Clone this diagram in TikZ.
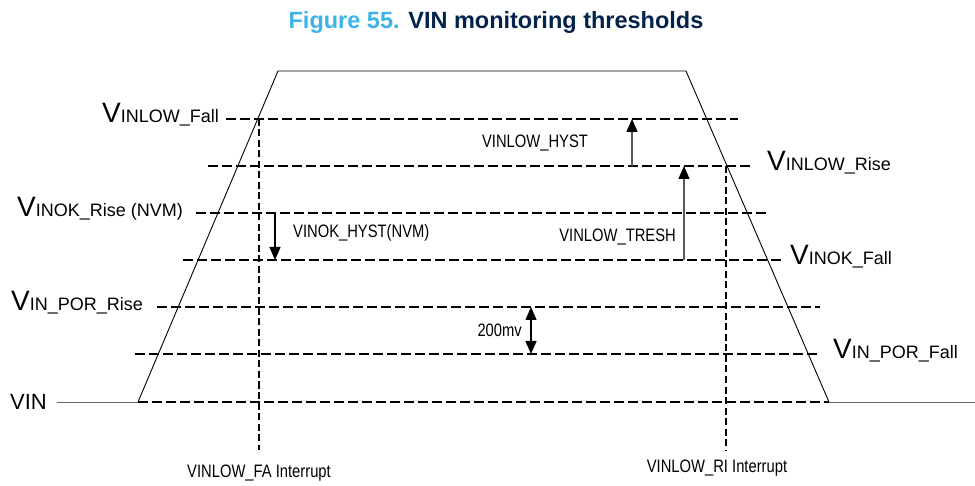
\documentclass[tikz,border=0pt]{standalone}
\usepackage{fontspec}
\setmainfont{Liberation Sans}
\newfontfamily\narrowfont[FakeStretch=0.82]{Liberation Sans}
\usetikzlibrary{arrows.meta}
\definecolor{stblue}{HTML}{3CB4E6}
\definecolor{stnavy}{HTML}{03234B}
\newcommand{\bigV}[1]{{\fontsize{28}{28}\selectfont V}{\fontsize{18}{18}\selectfont #1}}

\begin{document}
\begin{tikzpicture}[x=1pt,y=-1pt,
  level/.style={line width=2.8pt,dash pattern=on 9.5pt off 4.5pt},
  marker/.style={line width=1.9pt,dash pattern=on 7pt off 3.5pt},
  wave/.style={line width=0.9pt},
  base/.style={line width=0.9pt,black!60},
  gap/.style={line width=1.4pt,black!65,-{Triangle[length=13pt,width=11pt,black]}},
  tag/.style={font=\narrowfont\fontsize{18}{18}\selectfont,inner sep=0pt},
  vlabel/.style={inner sep=0pt}]
\useasboundingbox (0,0) rectangle (975,486);
% title
\node[font=\bfseries\fontsize{23.5}{23.5}\selectfont] (title) at (496,22)
  {\textcolor{stblue}{Figure 55.} \textcolor{stnavy}{VIN monitoring thresholds}};
% threshold levels
\draw[level] (226,119) -- (738,119);
\draw[level] (208,166) -- (750,166);
\draw[level] (196,213) -- (770,213);
\draw[level] (183,260) -- (782,260);
\draw[level] (157,307) -- (820,307);
\draw[level] (135,354) -- (820,354);
\draw[level] (138,402) -- (829,402);
% interrupt markers
\draw[marker] (259,119) -- (259,450);
\draw[marker] (726,166) -- (726,450);
% supply waveform
\draw[base] (57,402) -- (138,402);
\draw[wave] (138,402) -- (278,71) -- (686,71) -- (829,402);
\draw[base] (829,402) -- (975,402);
% level names
\node[vlabel,anchor=base east] (lowfall) at (219,123) {\bigV{INLOW\_Fall}};
\node[vlabel,anchor=base east] (okrise) at (183,217) {\bigV{INOK\_Rise (NVM)}};
\node[vlabel,anchor=base east] (porrise) at (143,311) {\bigV{IN\_POR\_Rise}};
\node[vlabel,anchor=east,font=\fontsize{22}{22}\selectfont] (vin) at (47,402) {VIN};
\node[vlabel,anchor=base west] (lowrise) at (767,171) {\bigV{INLOW\_Rise}};
\node[vlabel,anchor=base west] (okfall) at (790,265) {\bigV{INOK\_Fall}};
\node[vlabel,anchor=base west] (porfall) at (833,359) {\bigV{IN\_POR\_Fall}};
% hysteresis arrows
\coordinate (hystA) at (632,166);
\coordinate (hystB) at (632,119);
\draw[gap] (hystA) -- (hystB);
\node[tag] (hyst) at (535,143) {VINLOW\_HYST};
\coordinate (treshA) at (684,260);
\coordinate (treshB) at (684,166);
\draw[gap] (treshA) -- (treshB);
\node[tag,anchor=east] (tresh) at (676,237) {VINLOW\_TRESH};
\coordinate (okA) at (275,213);
\coordinate (okB) at (275,260);
\draw[gap,black] (okA) -- (okB);
\node[tag,anchor=west] (okhyst) at (293,233) {VINOK\_HYST(NVM)};
\coordinate (porA) at (531,307);
\coordinate (porB) at (531,354);
\draw[gap,black,{Triangle[length=13pt,width=11pt]}-{Triangle[length=13pt,width=11pt]}] (porA) -- (porB);
\node[tag,anchor=east] (por) at (522,330) {200mv};
% interrupt names
\node[tag] (fa) at (259,473) {VINLOW\_FA Interrupt};
\node[tag] (ri) at (717,468) {VINLOW\_RI Interrupt};
\end{tikzpicture}
\end{document}
